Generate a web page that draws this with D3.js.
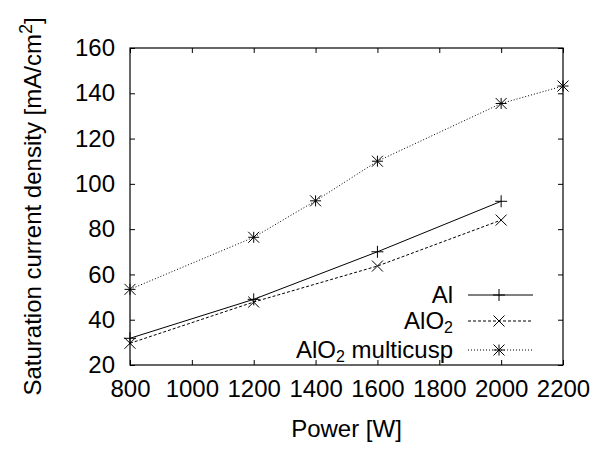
<!DOCTYPE html>
<html>
<head>
<meta charset="utf-8">
<script src="https://cdn.jsdelivr.net/npm/d3@7"></script>
<style>
  body { margin: 0; background: #fff; }
  svg { font-family: "Liberation Sans", Arial, sans-serif; }
</style>
</head>
<body>
<div id="chart"></div>
<script>
const powerAl = [800, 1200, 1600, 2000];
const valuesAl = [31.8, 49, 70, 92.3];
const powerAlO2 = [800, 1200, 1600, 2000];
const valuesAlO2 = [29.6, 47.8, 63.7, 84];
const powerMulti = [800, 1200, 1400, 1600, 2000, 2200];
const valuesMulti = [53.4, 76.4, 92.5, 110, 135.5, 143.2];
const xTicks = [800, 1000, 1200, 1400, 1600, 1800, 2000, 2200];
const yTicks = [20, 40, 60, 80, 100, 120, 140, 160];

const width = 597, height = 451;
const margin = {top: 48, right: 34, bottom: 86, left: 130};
const innerW = width - margin.left - margin.right;
const innerH = height - margin.top - margin.bottom;
const fs = 24;

const svg = d3.select("#chart").append("svg")
    .attr("width", width)
    .attr("height", height);

const g = svg.append("g")
    .attr("transform", "translate(" + margin.left + "," + margin.top + ")");

const x = d3.scaleLinear().domain([800, 2200]).range([0, innerW]);
const y = d3.scaleLinear().domain([20, 160]).range([innerH, 0]);

// gnuplot style: inward ticks mirrored on all sides
const tickLen = 5;
g.append("g")
    .attr("transform", "translate(0," + innerH + ")")
    .call(d3.axisBottom(x).tickValues(xTicks).tickFormat(d3.format("d"))
        .tickSizeInner(-tickLen).tickSizeOuter(0).tickPadding(15))
    .call(a => a.select(".domain").remove());
g.append("g")
    .call(d3.axisTop(x).tickValues(xTicks).tickSizeInner(-tickLen).tickSizeOuter(0).tickFormat(""))
    .call(a => a.select(".domain").remove());
g.append("g")
    .call(d3.axisLeft(y).tickValues(yTicks).tickSizeInner(-tickLen).tickSizeOuter(0).tickPadding(15))
    .call(a => a.select(".domain").remove());
g.append("g")
    .attr("transform", "translate(" + innerW + ",0)")
    .call(d3.axisRight(y).tickValues(yTicks).tickSizeInner(-tickLen).tickSizeOuter(0).tickFormat(""))
    .call(a => a.select(".domain").remove());

g.selectAll("g").attr("font-size", fs).attr("font-family", "Liberation Sans, Arial, sans-serif");
g.selectAll(".tick text").attr("fill", "#000");
g.selectAll(".tick line").attr("stroke", "#000");

g.append("rect")
    .attr("width", innerW)
    .attr("height", innerH)
    .attr("fill", "none")
    .attr("stroke", "#000")
    .attr("stroke-width", 1.2);

// markers
function markerPath(type, s) {
    const p = "M" + (-s) + ",0H" + s + "M0," + (-s) + "V" + s;
    const c = "M" + (-s) + "," + (-s) + "L" + s + "," + s + "M" + (-s) + "," + s + "L" + s + "," + (-s);
    if (type === "plus") return p;
    if (type === "cross") return c;
    return p + c;
}

const series = [
    {name: "Al", xs: powerAl, ys: valuesAl, dash: null, marker: "plus"},
    {name: "AlO2", xs: powerAlO2, ys: valuesAlO2, dash: "3,2", marker: "cross"},
    {name: "AlO2 multicusp", xs: powerMulti, ys: valuesMulti, dash: "1,2", marker: "star"}
];

const line = d3.line().x(d => x(d[0])).y(d => y(d[1]));

series.forEach(function(s) {
    const pts = s.xs.map((v, i) => [v, s.ys[i]]);
    g.append("path")
        .datum(pts)
        .attr("d", line)
        .attr("fill", "none")
        .attr("stroke", "#000")
        .attr("stroke-width", 1)
        .attr("stroke-dasharray", s.dash);
    g.selectAll(null)
        .data(pts)
        .enter().append("path")
        .attr("transform", d => "translate(" + x(d[0]) + "," + y(d[1]) + ")")
        .attr("d", markerPath(s.marker, s.marker === "plus" ? 6 : 5.5))
        .attr("fill", "none")
        .attr("stroke", "#000")
        .attr("stroke-width", 1);
});

// legend
const legendRows = [295, 321, 350];
series.forEach(function(s, i) {
    const ly = legendRows[i];
    const lg = svg.append("g");
    lg.append("line")
        .attr("x1", 468).attr("x2", 533)
        .attr("y1", ly).attr("y2", ly)
        .attr("stroke", "#000")
        .attr("stroke-dasharray", s.dash);
    lg.append("path")
        .attr("transform", "translate(499," + ly + ")")
        .attr("d", markerPath(s.marker, s.marker === "plus" ? 6 : 5.5))
        .attr("fill", "none")
        .attr("stroke", "#000");
    const t = lg.append("text")
        .attr("x", 453)
        .attr("y", ly + 8)
        .attr("text-anchor", "end")
        .attr("font-size", fs);
    if (s.name === "Al") {
        t.text("Al");
    } else {
        t.append("tspan").text("AlO");
        t.append("tspan").attr("dy", 4).attr("font-size", 16).text("2");
        if (s.name === "AlO2 multicusp") {
            t.append("tspan").attr("dy", -4).text(" multicusp");
        }
    }
});

// axis titles
svg.append("text")
    .attr("x", margin.left + innerW / 2)
    .attr("y", 437)
    .attr("text-anchor", "middle")
    .attr("font-size", fs)
    .text("Power [W]");

const yl = svg.append("text")
    .attr("transform", "translate(41," + (margin.top + innerH / 2) + ") rotate(-90)")
    .attr("text-anchor", "middle")
    .attr("font-size", fs);
yl.append("tspan").text("Saturation current density [mA/cm");
yl.append("tspan").attr("dy", -9).attr("font-size", 18).text("2");
yl.append("tspan").attr("dy", 9).text("]");
</script>
</body>
</html>
